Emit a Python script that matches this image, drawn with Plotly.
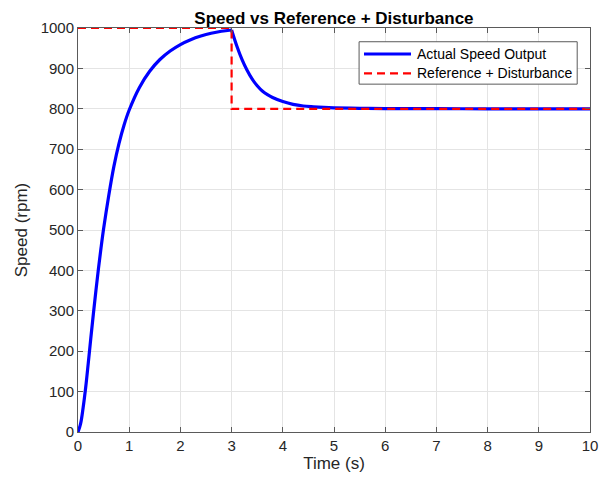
import plotly.graph_objects as go

# Measured motor speed (rpm) over time (s): start-up ramp, then response to the disturbance
time_s = [0, 0.05, 0.1, 0.15, 0.2, 0.25, 0.3, 0.35, 0.4, 0.45, 0.5, 0.6, 0.7, 0.8,
          0.9, 1.0, 1.2, 1.4, 1.6, 1.8, 2.0, 2.2, 2.4, 2.6, 2.8, 3.0,
          3.1, 3.2, 3.3, 3.4, 3.5, 3.6, 3.7, 3.8, 4.0, 4.2, 4.4, 4.6, 4.8, 5.0,
          5.5, 6.0, 7.0, 8.0, 9.0, 10.0]
speed_rpm = [0, 20, 60, 110, 170, 232, 292, 350, 405, 456, 503, 585, 657, 714,
             760, 797, 853, 893, 922, 943, 959, 971, 980, 987, 992, 995,
             956, 923, 896, 874, 857, 844, 835, 828, 818, 811, 807, 805, 803.5, 802.5,
             801.2, 800.6, 800.2, 800, 800, 800]

# Reference setpoint with disturbance step at t = 3 s
ref_time = [0, 3, 3, 10]
ref_rpm = [1000, 1000, 800, 800]

x_ticks = list(range(0, 11))
y_ticks = list(range(0, 1001, 100))

speed_name = "Actual Speed Output"
ref_name = "Reference + Disturbance"

axis_color = "#5a5a5a"
grid_color = "#e4e4e4"
font_family = "Arial, Liberation Sans, sans-serif"
blue = "#0000ff"
red = "#ff0000"

# The speed trace has a corner where the disturbance hits; smooth each side separately
split = time_s.index(3.0)
segments = [(time_s[:split + 1], speed_rpm[:split + 1]),
            (time_s[split:], speed_rpm[split:])]

fig = go.Figure()
for seg_t, seg_v in segments:
    fig.add_trace(go.Scatter(
        x=seg_t, y=seg_v, mode="lines", name=speed_name, showlegend=False,
        line=dict(color=blue, width=3.2, shape="spline", smoothing=1.0),
    ))
fig.add_trace(go.Scatter(
    x=ref_time, y=ref_rpm, mode="lines", name=ref_name, showlegend=False,
    line=dict(color=red, width=2.2, dash="8px,5px"),
))

axis_common = dict(
    showline=True, linecolor=axis_color, linewidth=1, mirror="ticks",
    ticks="inside", ticklen=5, tickcolor=axis_color, tickwidth=1,
    showgrid=True, gridcolor=grid_color, gridwidth=1, zeroline=False,
    tickfont=dict(family=font_family, size=15, color="#262626"),
)

# Boxed legend in the upper right of the axes, with long line samples
legend_box = dict(x0=0.549, x1=0.975, y0=0.861, y1=0.966)
sample_x = (0.5586, 0.6504)
rows = [(0.9356, speed_name, dict(color=blue, width=3.2)),
        (0.8879, ref_name, dict(color=red, width=2.2, dash="8px,5px"))]

shapes = [dict(type="rect", xref="paper", yref="paper", layer="above",
               fillcolor="white", line=dict(color=axis_color, width=1), **legend_box)]
annotations = []
for ry, label, style in rows:
    shapes.append(dict(type="line", xref="paper", yref="paper", layer="above",
                       x0=sample_x[0], x1=sample_x[1], y0=ry, y1=ry, line=style))
    annotations.append(dict(text=label, xref="paper", yref="paper", x=0.6582, y=ry,
                            xanchor="left", yanchor="middle", showarrow=False,
                            font=dict(family=font_family, size=14, color="#000000")))

fig.update_layout(
    width=611, height=485,
    margin=dict(l=78, r=21, t=28, b=53),
    paper_bgcolor="white", plot_bgcolor="white",
    title=dict(text="<b>Speed vs Reference + Disturbance</b>", x=0.5466, xanchor="center",
               y=0.963, yanchor="middle",
               font=dict(family=font_family, size=17, color="#000000")),
    xaxis=dict(range=[0, 10], tickvals=x_ticks, ticktext=[str(v) for v in x_ticks],
               title=dict(text="Time (s)", font=dict(family=font_family, size=17, color="#262626"),
                          standoff=4),
               **axis_common),
    yaxis=dict(range=[0, 1000], tickvals=y_ticks, ticktext=[str(v) for v in y_ticks],
               title=dict(text="Speed (rpm)", font=dict(family=font_family, size=17, color="#262626"),
                          standoff=8),
               **axis_common),
    shapes=shapes,
    annotations=annotations,
    showlegend=False,
)

fig.write_html("out.html")
